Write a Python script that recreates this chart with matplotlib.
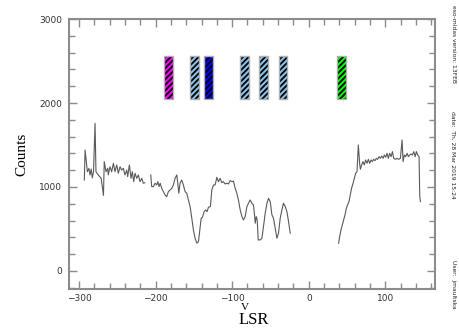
import numpy as np
import matplotlib
matplotlib.use("Agg")
import matplotlib.pyplot as plt
from matplotlib.ticker import MultipleLocator

# spectrum, three pieces (gaps in between)
v1 = [-293, -292, -289, -287, -285.6, -284, -282.6, -281, -279, -277.8, -274.8, -271, -268,
      -267, -264.7, -262.5, -261.7, -259.5, -257.3, -255, -253, -250.7, -248.6, -246.4, -244.2,
      -242, -240, -237.6, -236.4, -234.2, -232, -230.3, -228.5, -226.8, -224.6, -222.5, -220.3,
      -218, -216, -214]
c1 = [1083, 1440, 1182, 1222, 1143, 1214, 1107, 1182, 1758, 1182, 1143, 1103, 900,
      1302, 1182, 1222, 1143, 1242, 1182, 1282, 1182, 1262, 1163, 1242, 1202,
      1222, 1143, 1202, 1123, 1262, 1103, 1182, 1063, 1163, 1103, 1143, 1063,
      1103, 1044, 1050]

v2 = [-206.3, -205, -202.8, -200.7, -198.5, -197.1, -195.4, -194, -191.9, -189.8, -187.6, -185.4,
      -183.3, -181, -178.8, -176.7, -174.5, -172.3, -171, -169.7, -168, -165.8, -163.7, -161.4,
      -159.2, -157.1, -154.9, -152.7, -150.6, -148.4, -146.1, -144, -142.7, -140.5, -138.8,
      -136.6, -134.4, -132.7, -131, -128.4, -126.6, -124.4, -122.2, -120, -117.9, -115.7, -113.5,
      -111.4, -109.2, -107, -104.8, -102.6, -100.4, -98.3, -96.1, -93.9, -91.8, -89.5, -87.3,
      -85.2, -83, -80.8, -78.7, -76.5, -74.3, -72.2, -70.8, -69.9, -68.6, -67.3, -66, -63.4,
      -61.2, -59.1, -56.9, -54.6, -52.5, -50.3, -48.1, -46, -43.8, -41.6, -39.5, -37.3, -35.1,
      -33, -30.7, -28.5, -26.4, -24.2]
c2 = [1143, 1004, 1004, 1044, 1024, 1063, 1004, 1044, 984, 944, 905, 885,
      944, 964, 984, 1024, 1103, 1143, 1044, 925, 1044, 1083, 1024, 944,
      925, 845, 766, 627, 488, 389, 330, 349, 449, 627, 639,
      706, 726, 706, 758, 766, 964, 1024, 1024, 1115, 1063, 1103, 1051,
      1063, 1036, 1044, 1036, 1075, 1063, 1071, 984, 925, 845, 726, 647,
      607, 647, 766, 806, 845, 806, 786, 667, 568, 647, 607, 369, 369,
      389, 528, 687, 806, 865, 825, 667, 627, 508, 389, 449, 627, 726,
      806, 766, 706, 587, 449]

v3 = [39, 40.3, 42.1, 43.8, 45.5, 47.3, 49, 50.7, 52.5, 54.2, 55.9, 57.8, 59.5, 61.2, 63,
      64.7, 66.4, 67.3, 69, 70.8, 72.5, 74.2, 76, 77.8, 79.5, 81.3, 83, 84.7, 86.5, 88.2, 89.9,
      91.8, 93.5, 95.2, 97, 98.7, 100.4, 102.2, 103.9, 105.6, 107.5, 109.2, 110.9, 113.1, 115.3,
      117.4, 119.6, 121.8, 123.1, 124.8, 126.6, 128.4, 130.1, 131.8, 133.6, 135.3, 137.1, 138.9,
      140.5, 142.2, 144, 144.9, 145.8]
c3 = [330, 409, 488, 548, 607, 667, 746, 786, 825, 905, 984, 1044, 1103, 1163, 1182,
      1500, 1282, 1210, 1262, 1302, 1262, 1321, 1282, 1329, 1282, 1321, 1302, 1329, 1313, 1341, 1329,
      1361, 1341, 1369, 1341, 1381, 1353, 1401, 1341, 1401, 1361, 1421, 1341, 1329, 1341,
      1329, 1341, 1560, 1302, 1381, 1361, 1401, 1361, 1381, 1393, 1381, 1421, 1361,
      1421, 1381, 1361, 885, 825]

# hatched markers
box_v = [-183, -149, -131, -84, -59, -34, 43]
box_colors = ['#ff00ff', '#87bfe8', '#0000ff', '#87bfe8', '#87bfe8', '#87bfe8', '#00ff00']
box_lo = 2050
box_hi = 2560

grey = '#8c8c8c'
plt.rcParams['hatch.linewidth'] = 1.3

fig = plt.figure(figsize=(4.6, 3.29), dpi=100)
ax = fig.add_axes([0.15, 0.122, 0.796, 0.820])

for v, c in [(v1, c1), (v2, c2), (v3, c3)]:
    ax.plot(v, c, color='#5a5a5a', lw=0.8)

ax.bar(box_v, box_hi - box_lo, bottom=box_lo, width=11, color=box_colors,
       edgecolor='black', hatch='//////', linewidth=0)
ax.bar(box_v, box_hi - box_lo, bottom=box_lo, width=11, fill=False,
       edgecolor='#b0b0b0', linewidth=1.0)

ax.set_xlim(-313, 165)
ax.set_ylim(-214, 3000)
ax.xaxis.set_major_locator(MultipleLocator(100))
ax.xaxis.set_minor_locator(MultipleLocator(20))
ax.yaxis.set_major_locator(MultipleLocator(1000))
ax.yaxis.set_minor_locator(MultipleLocator(200))
ax.tick_params(which='both', direction='in', top=True, right=True, color=grey,
               width=1.0, labelsize=6.5, labelcolor='#333333', pad=5)
ax.tick_params(axis='x', pad=4)
ax.tick_params(which='major', length=6)
ax.tick_params(which='minor', length=4)
for s in ax.spines.values():
    s.set_color(grey)
    s.set_linewidth(1.5)

ax.set_ylabel('Counts', family='Liberation Serif', fontsize=11, labelpad=8)
fig.text(0.533, 0.066, 'V', family='Liberation Serif', fontsize=8,
         ha='center', va='center')
fig.text(0.552, 0.027, 'LSR', family='Liberation Serif', fontsize=12,
         ha='center', va='center')

fig.text(0.985, 0.865, 'eso-midas version: 13FEB', rotation=-90, fontsize=4.3,
         ha='center', va='center', color='#222222')
fig.text(0.985, 0.53, 'date:  Th, 28 Mar 2019 15:24', rotation=-90, fontsize=4.3,
         ha='center', va='center', color='#222222')
fig.text(0.985, 0.137, 'User:  jmaultska', rotation=-90, fontsize=4.3,
         ha='center', va='center', color='#222222')

fig.savefig('out.png', dpi=100)
